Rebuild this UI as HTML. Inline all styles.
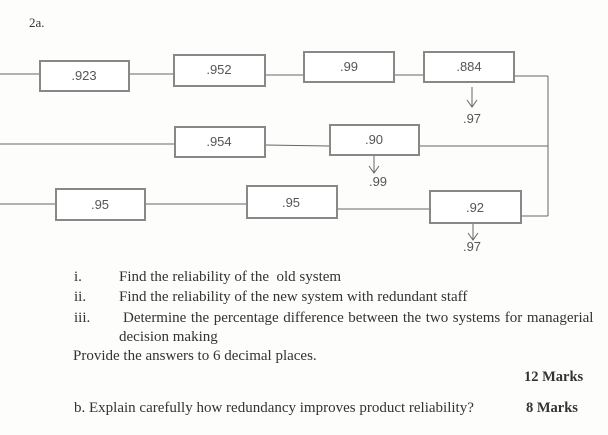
<!DOCTYPE html>
<html><head><meta charset="utf-8"><style>
body{margin:0;background:#fff;}
#c{position:relative;width:608px;height:435px;overflow:hidden;background:#fdfdfc;font-family:"Liberation Serif",serif;color:#333;}
.t{position:absolute;font-size:15px;white-space:nowrap;line-height:17px;}
.b{font-weight:bold;font-size:14.5px;}
svg text{font-family:"Liberation Sans",sans-serif;font-size:13px;fill:#555;}
</style></head><body><div id="c">
<svg width="608" height="265" style="position:absolute;left:0;top:0">
<g stroke="#666" stroke-width="1" fill="none">
<line x1="0" y1="74" x2="39" y2="74"/><line x1="129" y1="74" x2="173" y2="74"/>
<line x1="265" y1="75" x2="303" y2="75"/><line x1="394" y1="75" x2="423" y2="75"/>
<line x1="514" y1="76" x2="548" y2="76"/><line x1="548" y1="76" x2="548" y2="216"/>
<line x1="0" y1="144" x2="174" y2="144"/><line x1="265" y1="145" x2="329" y2="146"/>
<line x1="419" y1="146" x2="548" y2="146"/>
<line x1="0" y1="204" x2="55" y2="204"/><line x1="145" y1="204" x2="246" y2="204"/>
<line x1="337" y1="209" x2="429" y2="209"/><line x1="521" y1="216" x2="548" y2="216"/>
<line x1="472" y1="87" x2="472" y2="107"/><polyline points="467,100 472,107 477,100"/>
<line x1="374" y1="155" x2="374" y2="173"/><polyline points="369,166 374,173 379,166"/>
<line x1="473" y1="223" x2="473" y2="240"/><polyline points="468,233 473,240 478,233"/>
</g>
<g stroke="#888" stroke-width="2" fill="#fff">
<rect x="40" y="61" width="89" height="30"/><rect x="174" y="55" width="91" height="31"/>
<rect x="304" y="52" width="90" height="30"/><rect x="424" y="52" width="90" height="30"/>
<rect x="175" y="127" width="90" height="30"/><rect x="330" y="125" width="89" height="30"/>
<rect x="56" y="189" width="89" height="31"/><rect x="247" y="186" width="90" height="32"/>
<rect x="430" y="191" width="91" height="32"/>
</g>
<text x="84" y="80" text-anchor="middle">.923</text>
<text x="219" y="74" text-anchor="middle">.952</text>
<text x="349" y="71" text-anchor="middle">.99</text>
<text x="469" y="71" text-anchor="middle">.884</text>
<text x="219" y="146" text-anchor="middle">.954</text>
<text x="374" y="144" text-anchor="middle">.90</text>
<text x="100" y="209" text-anchor="middle">.95</text>
<text x="291" y="207" text-anchor="middle">.95</text>
<text x="475" y="212" text-anchor="middle">.92</text>
<text x="472" y="123" text-anchor="middle">.97</text>
<text x="378" y="186" text-anchor="middle">.99</text>
<text x="472" y="251" text-anchor="middle">.97</text>
</svg>
<div class="t" style="left:29px;top:14px;font-size:13px">2a.</div>
<div class="t" style="left:74px;top:269px">i.</div>
<div class="t" style="left:119px;top:269px">Find the reliability of the&nbsp; old system</div>
<div class="t" style="left:74px;top:289px">ii.</div>
<div class="t" style="left:119px;top:289px">Find the reliability of the new system with redundant staff</div>
<div class="t" style="left:74px;top:310px">iii.</div>
<div class="t" style="left:123px;top:310px;word-spacing:0.8px">Determine the percentage difference between the two systems for managerial</div>
<div class="t" style="left:119px;top:329px">decision making</div>
<div class="t" style="left:73px;top:348px">Provide the answers to 6 decimal places.</div>
<div class="t b" style="left:524px;top:369px">12 Marks</div>
<div class="t" style="left:74px;top:400px">b. Explain carefully how redundancy improves product reliability?</div>
<div class="t b" style="left:526px;top:400px">8 Marks</div>
</div></body></html>
